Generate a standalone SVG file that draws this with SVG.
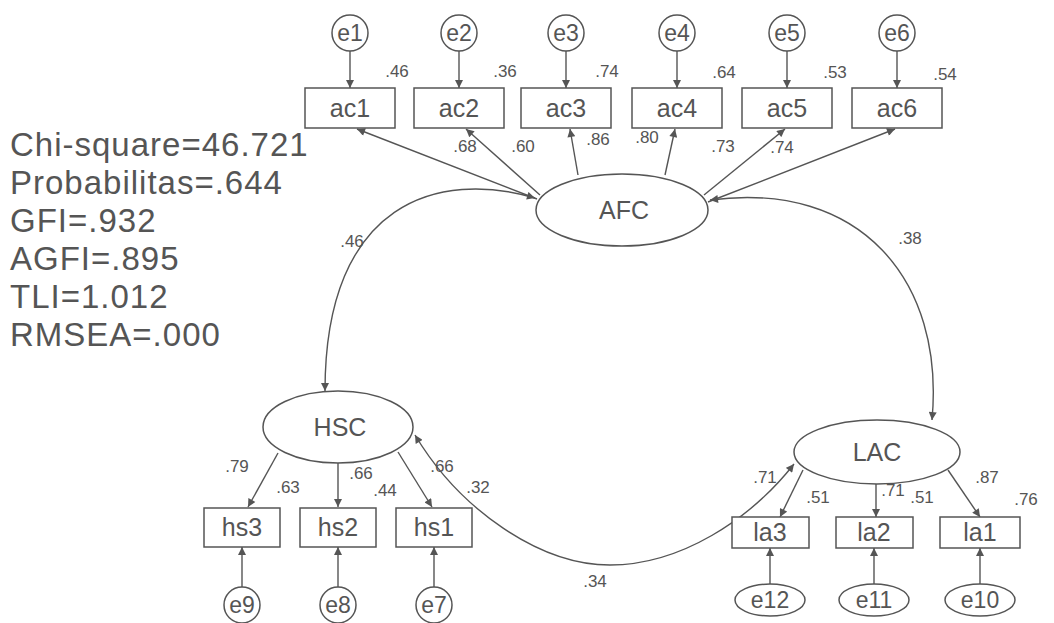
<svg xmlns="http://www.w3.org/2000/svg" width="1054" height="623" viewBox="0 0 1054 623">
<defs>
<marker id="ah" viewBox="0 0 10 10" refX="10" refY="5" markerWidth="9" markerHeight="8" markerUnits="userSpaceOnUse" orient="auto-start-reverse">
<path d="M0,0 L10,5 L0,10 z" fill="#555"/>
</marker>
<style>
.ln{fill:none;stroke:#555;stroke-width:1.4}
.arr{fill:none;stroke:#555;stroke-width:1.4;marker-end:url(#ah)}
.cov{fill:none;stroke:#555;stroke-width:1.4;marker-start:url(#ah);marker-end:url(#ah)}
.box{fill:#fff;stroke:#555;stroke-width:1.5}
.lat{fill:#fff;stroke:#555;stroke-width:1.5}
.t{font-family:"Liberation Sans",Arial,sans-serif;fill:#555;text-anchor:middle}
.bx{font-size:25px}
.er{font-size:23px}
.lv{font-size:25px}
.sm{font-size:17px}
.st{font-family:"Liberation Sans",Arial,sans-serif;fill:#555;font-size:33px;letter-spacing:1px}
</style>
</defs>
<rect width="1054" height="623" fill="#fff"/>

<g id="connectors">
<path class="arr" d="M350,51 L350,88"/>
<path class="arr" d="M459,51 L459,88"/>
<path class="arr" d="M566,51 L566,88"/>
<path class="arr" d="M677,51 L677,88"/>
<path class="arr" d="M787,51 L787,88"/>
<path class="arr" d="M897,51 L897,88"/>
<path class="arr" d="M242,587 L242,547"/>
<path class="arr" d="M338,587 L338,547"/>
<path class="arr" d="M434,587 L434,547"/>
<path class="arr" d="M770,584 L770,548"/>
<path class="arr" d="M874,584 L874,548"/>
<path class="arr" d="M980,584 L980,548"/>
<path class="arr" d="M537,199 L357,129"/>
<path class="arr" d="M540,195 L466,129"/>
<path class="arr" d="M578,175 L570,129"/>
<path class="arr" d="M665,175 L675,129"/>
<path class="arr" d="M704,195 L785,129"/>
<path class="arr" d="M708,202 L895,129"/>
<path class="arr" d="M278,453 L248,507"/>
<path class="arr" d="M338,463 L338,507"/>
<path class="arr" d="M398,452 L432,507"/>
<path class="arr" d="M803,470 L780,517"/>
<path class="arr" d="M876,484 L876,517"/>
<path class="arr" d="M948,470 L980,517"/>
<path class="cov" d="M535,198 C440,170 325,200 325,391"/>
<path class="cov" d="M710,200 C860,180 945,280 932,420"/>
<path class="cov" d="M415,435 C460,510 540,565 610,565 C680,565 750,520 794,464"/>
</g>

<g id="e1"><circle class="lat" cx="350" cy="33" r="18"/><text class="t er" x="350" y="41">e1</text></g>
<g id="e2"><circle class="lat" cx="459" cy="33" r="18"/><text class="t er" x="459" y="41">e2</text></g>
<g id="e3"><circle class="lat" cx="566" cy="33" r="18"/><text class="t er" x="566" y="41">e3</text></g>
<g id="e4"><circle class="lat" cx="677" cy="33" r="18"/><text class="t er" x="677" y="41">e4</text></g>
<g id="e5"><circle class="lat" cx="787" cy="33" r="18"/><text class="t er" x="787" y="41">e5</text></g>
<g id="e6"><circle class="lat" cx="897" cy="33" r="18"/><text class="t er" x="897" y="41">e6</text></g>

<g id="ac1"><rect class="box" x="305" y="88" width="90" height="40"/><text class="t bx" x="350" y="117">ac1</text></g>
<g id="ac2"><rect class="box" x="414" y="88" width="90" height="40"/><text class="t bx" x="459" y="117">ac2</text></g>
<g id="ac3"><rect class="box" x="521" y="88" width="90" height="40"/><text class="t bx" x="566" y="117">ac3</text></g>
<g id="ac4"><rect class="box" x="632" y="88" width="90" height="40"/><text class="t bx" x="677" y="117">ac4</text></g>
<g id="ac5"><rect class="box" x="742" y="88" width="90" height="40"/><text class="t bx" x="787" y="117">ac5</text></g>
<g id="ac6"><rect class="box" x="852" y="88" width="90" height="40"/><text class="t bx" x="897" y="117">ac6</text></g>

<g id="AFC"><ellipse class="lat" cx="622" cy="210" rx="86" ry="36"/><text class="t lv" x="624" y="219">AFC</text></g>
<g id="HSC"><ellipse class="lat" cx="338" cy="427" rx="75" ry="36"/><text class="t lv" x="340" y="436">HSC</text></g>
<g id="LAC"><ellipse class="lat" cx="877" cy="452" rx="83" ry="32"/><text class="t lv" x="877" y="461">LAC</text></g>

<g id="hs3"><rect class="box" x="204" y="508" width="76" height="39"/><text class="t bx" x="242" y="536">hs3</text></g>
<g id="hs2"><rect class="box" x="300" y="508" width="76" height="39"/><text class="t bx" x="338" y="536">hs2</text></g>
<g id="hs1"><rect class="box" x="396" y="508" width="76" height="39"/><text class="t bx" x="434" y="536">hs1</text></g>

<g id="la3"><rect class="box" x="732" y="517" width="77" height="31"/><text class="t bx" x="770" y="541">la3</text></g>
<g id="la2"><rect class="box" x="836" y="517" width="77" height="31"/><text class="t bx" x="874" y="541">la2</text></g>
<g id="la1"><rect class="box" x="940" y="517" width="80" height="31"/><text class="t bx" x="980" y="541">la1</text></g>

<g id="e9"><circle class="lat" cx="242" cy="605" r="18"/><text class="t er" x="242" y="613">e9</text></g>
<g id="e8"><circle class="lat" cx="338" cy="605" r="18"/><text class="t er" x="338" y="613">e8</text></g>
<g id="e7"><circle class="lat" cx="434" cy="605" r="18"/><text class="t er" x="434" y="613">e7</text></g>
<g id="e12"><ellipse class="lat" cx="770" cy="600" rx="35" ry="16"/><text class="t er" x="770" y="608">e12</text></g>
<g id="e11"><ellipse class="lat" cx="874" cy="600" rx="35" ry="16"/><text class="t er" x="874" y="608">e11</text></g>
<g id="e10"><ellipse class="lat" cx="980" cy="600" rx="35" ry="16"/><text class="t er" x="980" y="608">e10</text></g>

<g id="labels">
<text class="t sm" x="397" y="77">.46</text>
<text class="t sm" x="505" y="77">.36</text>
<text class="t sm" x="607" y="77">.74</text>
<text class="t sm" x="724" y="78">.64</text>
<text class="t sm" x="835" y="78">.53</text>
<text class="t sm" x="945" y="80">.54</text>
<text class="t sm" x="465" y="152">.68</text>
<text class="t sm" x="523" y="152">.60</text>
<text class="t sm" x="598" y="145">.86</text>
<text class="t sm" x="647" y="143">.80</text>
<text class="t sm" x="723" y="152">.73</text>
<text class="t sm" x="782" y="153">.74</text>
<text class="t sm" x="352" y="247">.46</text>
<text class="t sm" x="910" y="244">.38</text>
<text class="t sm" x="595" y="587">.34</text>
<text class="t sm" x="237" y="472">.79</text>
<text class="t sm" x="288" y="493">.63</text>
<text class="t sm" x="361" y="479">.66</text>
<text class="t sm" x="385" y="496">.44</text>
<text class="t sm" x="442" y="472">.66</text>
<text class="t sm" x="478" y="493">.32</text>
<text class="t sm" x="765" y="483">.71</text>
<text class="t sm" x="818" y="503">.51</text>
<text class="t sm" x="893" y="496">.71</text>
<text class="t sm" x="922" y="503">.51</text>
<text class="t sm" x="987" y="483">.87</text>
<text class="t sm" x="1026" y="505">.76</text>
</g>

<g id="fit-stats">
<text class="st" x="10" y="156">Chi-square=46.721</text>
<text class="st" x="10" y="194">Probabilitas=.644</text>
<text class="st" x="10" y="232">GFI=.932</text>
<text class="st" x="10" y="270">AGFI=.895</text>
<text class="st" x="10" y="308">TLI=1.012</text>
<text class="st" x="10" y="346">RMSEA=.000</text>
</g>
</svg>
